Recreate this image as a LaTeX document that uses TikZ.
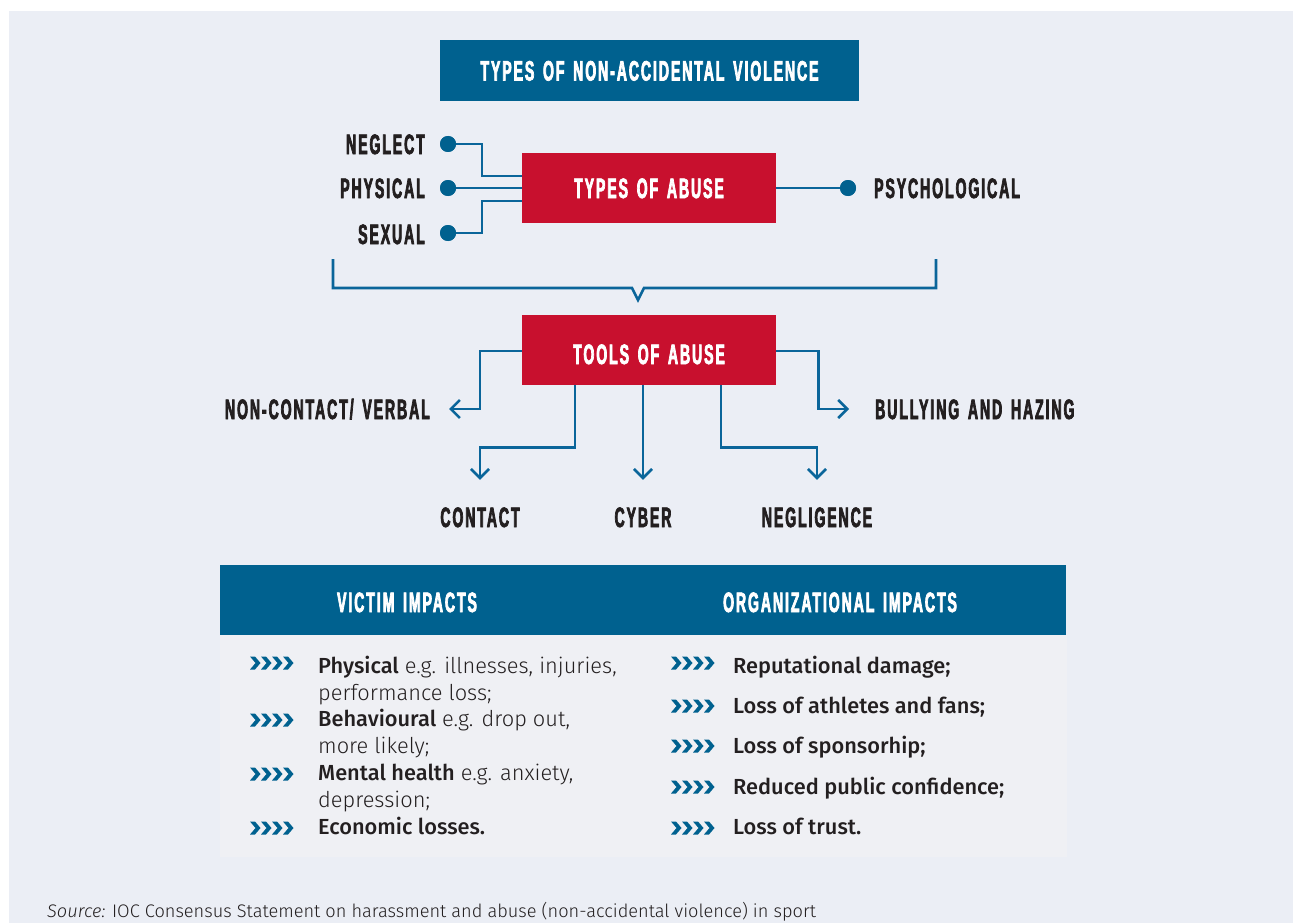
\documentclass[tikz,border=0pt]{standalone}
\usepackage{fontspec}
\setmainfont{Fira Sans Light}[BoldFont={Fira Sans Medium},ItalicFont={Fira Sans Light Italic}]
\newfontfamily\hfont{Liberation Sans Bold}[FakeStretch=0.5,LetterSpace=7,WordSpace=1.5,FakeBold=2.5]
\usetikzlibrary{arrows.meta}
\definecolor{bg}{HTML}{EBEEF5}
\definecolor{tblue}{HTML}{00618F}
\definecolor{lblue}{HTML}{0A659A}
\definecolor{tred}{HTML}{C8102E}
\definecolor{ink}{HTML}{231F20}
\definecolor{panel}{HTML}{EFF0F4}
\tikzset{chev/.pic={\foreach \i in {0,...,3}{\fill[tblue] (\i*11,-6.5) -- ++(5,0) -- ++(5.5,6.5) -- ++(-5.5,6.5) -- ++(-5,0) -- ++(5.5,-6.5) -- cycle;}}}
\begin{document}
\begin{tikzpicture}[x=1pt,y=-1pt,
  hd/.style={font=\hfont\fontsize{28}{28}\selectfont, text height=20pt, text depth=0pt, inner sep=0pt},
  lab/.style={hd, text=ink},
  redbox/.style={fill=tred, minimum width=254pt, minimum height=70pt, inner sep=0pt},
  bluehead/.style={hd, text=white},
  lines/.style={draw=lblue, line width=2.6pt},
  arr/.style={lines, -{Straight Barb[length=9pt,width=18pt]}},
  dot/.style={circle, fill=tblue, minimum size=16pt, inner sep=0pt},
  body/.style={font=\fontsize{21.8}{26}\selectfont, anchor=base west, inner sep=0pt, text=ink},
]
\useasboundingbox (0,0) rectangle (1293,923);
\fill[bg] (9,11) rectangle (1293,923);

% top header
\node[bluehead, fill=tblue, minimum width=419pt, minimum height=61pt] (top) at (649.5,70.5) {TYPES OF NON-ACCIDENTAL VIOLENCE};

% types of abuse
\node[redbox] (types) at (649,188) {};
\node[bluehead] (typeslab) at (649,188) {TYPES OF ABUSE};
\node[lab, anchor=east] (neglect) at (425,144) {NEGLECT};
\node[lab, anchor=east] (physical) at (425,188) {PHYSICAL};
\node[lab, anchor=east] (sexual) at (425,234) {SEXUAL};
\node[lab, anchor=west] (psych) at (874,188) {PSYCHOLOGICAL};
\node[dot] (d1) at (448,144) {};
\node[dot] (d2) at (448,188) {};
\node[dot] (d3) at (448,233) {};
\node[dot] (d4) at (848,188) {};
\draw[lines] (d1.center) -- ++(34,0) |- ([yshift=12pt]types.west);
\draw[lines] (d2.center) -- (types.west);
\draw[lines] (d3.center) -- ++(34,0) |- ([yshift=-13pt]types.west);
\draw[lines] (types.east) -- (d4.center);
\node[dot] at (d1) {};
\node[dot] at (d2) {};
\node[dot] at (d3) {};
\node[dot] at (d4) {};

% bracket
\coordinate (bl) at (333,259);
\coordinate (br) at (936,259);
\coordinate (nl) at (632,288);
\coordinate (nt) at (638,300);
\coordinate (nr) at (644,288);
\draw[lines, line join=miter] (bl) |- (nl) -- (nt) -- (nr) -| (br);

% tools of abuse
\node[redbox] (tools) at (649,350) {};
\node[bluehead] (toolslab) at (649,354) {TOOLS OF ABUSE};
\node[lab, anchor=east] (ncv) at (430,409) {NON-CONTACT/ VERBAL};
\node[lab, anchor=west] (bully) at (875,409) {BULLYING AND HAZING};
\node[lab] (contact) at (480,517) {CONTACT};
\node[lab] (cyber) at (643,517) {CYBER};
\node[lab] (neg) at (817,517) {NEGLIGENCE};
\draw[arr] ([yshift=-1pt]tools.west) -- ++(-42,0) |- ([xshift=19pt]ncv.east);
\draw[arr] ([yshift=-1pt]tools.east) -- ++(42,0) |- ([xshift=-26pt]bully.west);
\draw[arr] ([xshift=-74pt]tools.south) -- ++(0,62) -| ([yshift=27pt]contact.north);
\draw[arr] ([xshift=-6pt]tools.south) -- ([yshift=27pt]cyber.north);
\draw[arr] ([xshift=72pt]tools.south) -- ++(0,62) -| ([yshift=27pt]neg.north);

% table
\node[fill=tblue, minimum width=846pt, minimum height=70pt, inner sep=0pt, anchor=north west] (thead) at (220,565) {};
\node[fill=panel, minimum width=847pt, minimum height=222pt, inner sep=0pt, anchor=north west] (tbody) at (220,635) {};
\node[bluehead] (vic) at (407,602) {VICTIM IMPACTS};
\node[bluehead] (org) at (840,602) {ORGANIZATIONAL IMPACTS};

\pic at (250,663) {chev};
\pic at (250,720) {chev};
\pic at (250,774) {chev};
\pic at (250,828) {chev};
\node[body] (v1) at (318,673.5) {\textbf{Physical} e.g. illnesses, injuries,};
\node[body] (v1b) at (318,700.5) {performance loss;};
\node[body] (v2) at (318,726.5) {\textbf{Behavioural} e.g. drop out,};
\node[body] (v2b) at (318,753.5) {more likely;};
\node[body] (v3) at (318,780.5) {\textbf{Mental health} e.g. anxiety,};
\node[body] (v3b) at (318,807.5) {depression;};
\node[body] (v4) at (318,834.5) {\textbf{Economic losses.}};

\pic at (671,663) {chev};
\pic at (671,706) {chev};
\pic at (671,746) {chev};
\pic at (671,787) {chev};
\pic at (671,828) {chev};
\node[body] (o1) at (733,673.5) {\textbf{Reputational damage;}};
\node[body] (o2) at (733,713.5) {\textbf{Loss of athletes and fans;}};
\node[body] (o3) at (733,753.5) {\textbf{Loss of sponsorhip;}};
\node[body] (o4) at (733,794.5) {\textbf{Reduced public confidence;}};
\node[body] (o5) at (733,834.5) {\textbf{Loss of trust.}};

% footer
\node[body, font=\fontsize{18.2}{21}\selectfont] (src) at (47,917) {\textit{Source:} IOC Consensus Statement on harassment and abuse (non-accidental violence) in sport};
\end{tikzpicture}
\end{document}
